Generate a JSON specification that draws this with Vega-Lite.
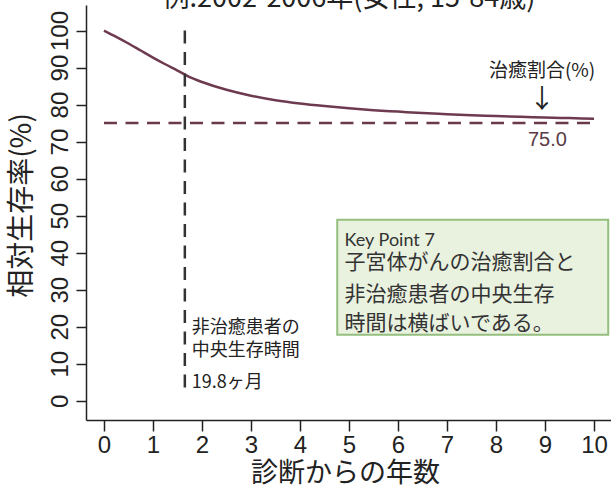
{
  "$schema": "https://vega.github.io/schema/vega-lite/v6.json",
  "width": 526,
  "height": 415,
  "autosize": {"type": "none"},
  "padding": {"left": 86, "top": 5, "right": 0, "bottom": 75},
  "background": "white",
  "config": {"view": {"stroke": null}, "font": "Noto Sans CJK JP"},
  "title": {
    "text": "例:2002-2006年(女性, 15-84歳)",
    "anchor": "middle",
    "frame": "group",
    "fontSize": 27,
    "fontWeight": "normal",
    "font": "Noto Sans CJK JP",
    "color": "#222222",
    "baseline": "alphabetic",
    "offset": 0,
    "dy": 29
  },
  "layer": [
    {
      "data": {"values": [
        {"t": 0, "v": 100}, {"t": 0.25, "v": 98.3}, {"t": 0.5, "v": 96.5}, {"t": 0.75, "v": 94.6},
        {"t": 1, "v": 92.7}, {"t": 1.25, "v": 90.9}, {"t": 1.5, "v": 89.2}, {"t": 1.75, "v": 87.4},
        {"t": 2, "v": 86.1}, {"t": 2.5, "v": 84.0}, {"t": 3, "v": 82.4}, {"t": 3.5, "v": 81.2},
        {"t": 4, "v": 80.3}, {"t": 4.5, "v": 79.6}, {"t": 5, "v": 79.0}, {"t": 5.5, "v": 78.5},
        {"t": 6, "v": 78.1}, {"t": 6.5, "v": 77.7}, {"t": 7, "v": 77.4}, {"t": 7.5, "v": 77.1},
        {"t": 8, "v": 76.9}, {"t": 8.5, "v": 76.7}, {"t": 9, "v": 76.5}, {"t": 9.5, "v": 76.35},
        {"t": 10, "v": 76.2}
      ]},
      "mark": {"type": "line", "color": "#6e3a50", "strokeWidth": 2.5, "interpolate": "monotone"},
      "encoding": {
        "x": {
          "field": "t", "type": "quantitative",
          "scale": {"domain": [-0.367, 10.367], "nice": false, "zero": false},
          "axis": {
            "values": [0,1,2,3,4,5,6,7,8,9,10],
            "grid": false,
            "domainColor": "#222222", "domainWidth": 1.5,
            "tickColor": "#222222", "tickWidth": 1.5, "tickSize": 11,
            "labelFont": "Liberation Sans", "labelFontSize": 24, "labelColor": "#222222", "labelPadding": 2,
            "labelFlush": false, "labelOverlap": false,
            "title": "診断からの年数",
            "titleFont": "Noto Sans CJK JP", "titleFontSize": 27, "titleFontWeight": "normal", "titleColor": "#222222",
            "titleX": 259, "titleY": 53, "titleBaseline": "middle", "titleAlign": "center"
          }
        },
        "y": {
          "field": "v", "type": "quantitative",
          "scale": {"domain": [-5.2, 106.9], "nice": false, "zero": false},
          "axis": {
            "values": [0,10,20,30,40,50,60,70,80,90,100],
            "grid": false,
            "domainColor": "#222222", "domainWidth": 1.5,
            "tickColor": "#222222", "tickWidth": 1.5, "tickSize": 10,
            "labelFont": "Liberation Sans", "labelFontSize": 24, "labelColor": "#222222", "labelPadding": 9,
            "labelAngle": -90, "labelAlign": "center", "labelBaseline": "alphabetic",
            "labelFlush": false, "labelOverlap": false,
            "title": "相対生存率(%)",
            "titleFont": "Noto Sans CJK JP", "titleFontSize": 28, "titleFontWeight": "normal", "titleColor": "#222222",
            "titleAngle": -90, "titleX": -64, "titleY": 200, "titleBaseline": "middle", "titleAlign": "center"
          }
        }
      }
    },
    {
      "data": {"values": [{"t": 0, "t2": 10, "v": 75}]},
      "mark": {"type": "rule", "color": "#6a3a4a", "strokeWidth": 2.5, "strokeDash": [13, 8.5]},
      "encoding": {
        "x": {"field": "t", "type": "quantitative"},
        "x2": {"field": "t2"},
        "y": {"field": "v", "type": "quantitative"}
      }
    },
    {
      "data": {"values": [{"t": 1.65, "v": 100, "v2": 2.5}]},
      "mark": {"type": "rule", "color": "#333333", "strokeWidth": 2.5, "strokeDash": [13, 8.5]},
      "encoding": {
        "x": {"field": "t", "type": "quantitative"},
        "y": {"field": "v", "type": "quantitative"},
        "y2": {"field": "v2"}
      }
    },
    {
      "data": {"values": [{"t": 4.76, "t2": 10.29, "v": 48.9, "v2": 17.8}]},
      "mark": {"type": "rect", "fill": "#e9f1df", "stroke": "#94bf7f", "strokeWidth": 2},
      "encoding": {
        "x": {"field": "t", "type": "quantitative"},
        "x2": {"field": "t2"},
        "y": {"field": "v", "type": "quantitative"},
        "y2": {"field": "v2"}
      }
    },
    {
      "data": {"values": [{"t": 8.94, "v": 89.0, "label": "治癒割合(%)"}]},
      "mark": {"type": "text", "font": "Noto Sans CJK JP", "fontSize": 19, "color": "#222222", "align": "center", "baseline": "middle"},
      "encoding": {
        "x": {"field": "t", "type": "quantitative"},
        "y": {"field": "v", "type": "quantitative"},
        "text": {"field": "label"}
      }
    },
    {
      "data": {"values": [{"t": 8.94, "v": 81.2, "label": "↓"}]},
      "mark": {"type": "text", "font": "Noto Sans CJK JP", "fontSize": 26, "color": "#222222", "align": "center", "baseline": "middle"},
      "encoding": {
        "x": {"field": "t", "type": "quantitative"},
        "y": {"field": "v", "type": "quantitative"},
        "text": {"field": "label"}
      }
    },
    {
      "data": {"values": [{"t": 9.05, "v": 70.3, "label": "75.0"}]},
      "mark": {"type": "text", "font": "Liberation Sans", "fontSize": 20, "color": "#5a3a44", "align": "center", "baseline": "middle"},
      "encoding": {
        "x": {"field": "t", "type": "quantitative"},
        "y": {"field": "v", "type": "quantitative"},
        "text": {"field": "label"}
      }
    },
    {
      "data": {"values": [
        {"t": 1.79, "v": 19.6, "label": "非治癒患者の"},
        {"t": 1.79, "v": 13.4, "label": "中央生存時間"},
        {"t": 1.79, "v": 4.7, "label": "19.8ヶ月"}
      ]},
      "mark": {"type": "text", "font": "Noto Sans CJK JP", "fontSize": 18, "color": "#222222", "align": "left", "baseline": "middle"},
      "encoding": {
        "x": {"field": "t", "type": "quantitative"},
        "y": {"field": "v", "type": "quantitative"},
        "text": {"field": "label"}
      }
    },
    {
      "data": {"values": [{"t": 4.91, "v": 43.2, "label": "Key Point 7"}]},
      "mark": {"type": "text", "font": "Lato", "fontSize": 18, "color": "#333333", "align": "left", "baseline": "middle"},
      "encoding": {
        "x": {"field": "t", "type": "quantitative"},
        "y": {"field": "v", "type": "quantitative"},
        "text": {"field": "label"}
      }
    },
    {
      "data": {"values": [
        {"t": 4.91, "v": 37.1, "label": "子宮体がんの治癒割合と"},
        {"t": 4.91, "v": 28.6, "label": "非治癒患者の中央生存"},
        {"t": 4.91, "v": 20.8, "label": "時間は横ばいである。"}
      ]},
      "mark": {"type": "text", "font": "Noto Sans CJK JP", "fontSize": 21, "color": "#333333", "align": "left", "baseline": "middle"},
      "encoding": {
        "x": {"field": "t", "type": "quantitative"},
        "y": {"field": "v", "type": "quantitative"},
        "text": {"field": "label"}
      }
    }
  ]
}
